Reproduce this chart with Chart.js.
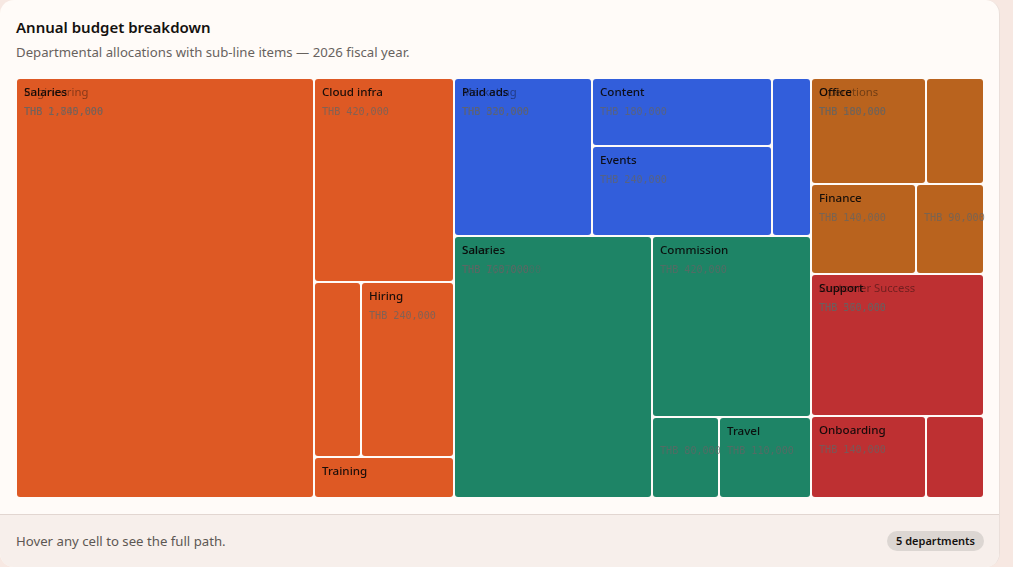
<!DOCTYPE html>
<html lang="en">
<head>
<meta charset="utf-8">
<title>Annual budget breakdown</title>
<script src="https://cdn.jsdelivr.net/npm/chart.js@4/dist/chart.umd.js"></script>
<style>
  html, body { margin: 0; height: 100%; background: #f7e8e2; overflow: hidden; }
  body { font-family: "Noto Sans", "Open Sans", sans-serif; }
  .card {
    position: absolute; left: 0; top: 0; width: 1000px; height: 567px;
    box-sizing: border-box; background: #fffbf8;
    border-right: 1px solid #eadfda; border-radius: 14px; overflow: hidden;
  }
  h1 { position: absolute; left: 16px; top: 16px; margin: 0; font-size: 15px; line-height: 22px; font-weight: 600; color: #14110f; }
  .sub { position: absolute; left: 16px; top: 43px; margin: 0; font-size: 13.2px; line-height: 18px; color: #68625e; }
  .plot { position: absolute; left: 16px; top: 78px; width: 969px; height: 420px; }
  .foot {
    position: absolute; left: 0; right: 0; top: 514px; bottom: 0;
    background: #f7efeb; border-top: 1px solid #e2d6d1;
  }
  .foot span.note { position: absolute; left: 16px; top: 16px; font-size: 13.2px; line-height: 20px; color: #5d5753; }
  .foot span.badge {
    position: absolute; right: 15px; top: 16px; height: 20px; padding: 0 9px; border-radius: 10px;
    background: #dcd6d2; font-size: 11px; line-height: 20px; font-weight: 600; color: #14110f;
  }
</style>
</head>
<body>
<div class="card">
  <h1>Annual budget breakdown</h1>
  <p class="sub">Departmental allocations with sub-line items — 2026 fiscal year.</p>
  <div class="plot"><canvas id="budget-chart"></canvas></div>
  <div class="foot">
    <span class="note">Hover any cell to see the full path.</span>
    <span class="badge">5 departments</span>
  </div>
</div>

<script>
// ── DATA ──
const departments  = ['Engineering', 'Marketing', 'Sales', 'Operations', 'Customer Success'];
const deptColors   = ['#de5924', '#325edb', '#1e8466', '#b9631e', '#be3032'];

const engineeringItems  = ['Salaries', 'Cloud infra', 'Tooling', 'Hiring', 'Training'];
const engineeringValues = [1840000, 420000, 120000, 240000, 85000];
const marketingItems    = ['Paid ads', 'Content', 'Events', 'Brand'];
const marketingValues   = [320000, 180000, 240000, 90000];
const salesItems        = ['Salaries', 'Commission', 'Enablement', 'Travel'];
const salesValues       = [760000, 420000, 80000, 110000];
const operationsItems   = ['Office', 'Facilities', 'Finance', 'Compliance'];
const operationsValues  = [180000, 90000, 140000, 90000];
const successItems      = ['Support', 'Onboarding', 'Knowledge base'];
const successValues     = [360000, 140000, 70000];

const itemNames  = [engineeringItems, marketingItems, salesItems, operationsItems, successItems];
const itemValues = [engineeringValues, marketingValues, salesValues, operationsValues, successValues];

// ── LAYOUT ──
const PLOT_W = 968;
const PLOT_H = 420;
const ROW_TOLERANCE = 1.6;   // how much worse a row's aspect may get before it's closed

const sum = (arr) => arr.reduce((a, b) => a + b, 0);
const thb = (v) => 'THB ' + v.toLocaleString('en-US');

function worstRatio(row, rest, rect) {
    const side  = Math.min(rect.w, rect.h);
    const long  = Math.max(rect.w, rect.h);
    const total = sum(row);
    const thick = long * total / rest;
    let worst = 0;
    row.forEach((v) => {
        const len = side * v / total;
        worst = Math.max(worst, thick / len, len / thick);
    });
    return worst;
}

function squarify(values, rect) {
    const out = [];
    let r = { ...rect };
    let i = 0;
    while (i < values.length) {
        const rest = sum(values.slice(i));
        const row = [values[i]];
        let worst = worstRatio(row, rest, r);
        while (i + row.length < values.length) {
            const next = worstRatio([...row, values[i + row.length]], rest, r);
            if (next > worst && next > worst * ROW_TOLERANCE) break;
            row.push(values[i + row.length]);
            worst = next;
        }
        const total = sum(row);
        if (r.w >= r.h) {
            const thick = r.w * total / rest;
            let y = r.y;
            row.forEach((v) => {
                const h = r.h * v / total;
                out.push({ x: r.x, y, w: thick, h });
                y += h;
            });
            r = { x: r.x + thick, y: r.y, w: r.w - thick, h: r.h };
        } else {
            const thick = r.h * total / rest;
            let x = r.x;
            row.forEach((v) => {
                const w = r.w * v / total;
                out.push({ x, y: r.y, w, h: thick });
                x += w;
            });
            r = { x: r.x, y: r.y + thick, w: r.w, h: r.h - thick };
        }
        i += row.length;
    }
    return out;
}

const deptTotals = itemValues.map(sum);
const deptRects  = squarify(deptTotals, { x: 0, y: 0, w: PLOT_W, h: PLOT_H });

const cells = [];
departments.forEach((dept, d) => {
    squarify(itemValues[d], deptRects[d]).forEach((rect, k) => {
        cells.push({ ...rect, dept: d, name: itemNames[d][k], value: itemValues[d][k] });
    });
});

// ── TREEMAP CONTROLLER ──
const LABEL_FONT = '500 11.6px "Noto Sans", "Open Sans", sans-serif';
const GROUP_FONT = '400 11.3px "Noto Sans", "Open Sans", sans-serif';
const VALUE_FONT = '10.1px "DejaVu Sans Mono", monospace';

class TreemapController extends Chart.DatasetController {
    static id = 'treemap';
    static defaults = { dataElementType: 'bar', datasetElementType: false };

    getMinMax(scale) {
        return { min: scale.options.min, max: scale.options.max };
    }

    getLabelAndValue(index) {
        const c = this.getDataset().data[index];
        return { label: departments[c.dept] + ' / ' + c.name, value: thb(c.value) };
    }

    update(mode) {
        const meta = this._cachedMeta;
        this.updateElements(meta.data, 0, meta.data.length, mode);
    }

    updateElements(elements, start, count) {
        const { x: xScale, y: yScale } = this.chart.scales;
        const data = this.getDataset().data;
        for (let i = start; i < start + count; i++) {
            const c = data[i];
            const left   = Math.round(xScale.getPixelForValue(c.x)) + 1;
            const right  = Math.round(xScale.getPixelForValue(c.x + c.w)) - 1;
            const top    = Math.round(yScale.getPixelForValue(c.y)) + 1;
            const bottom = Math.round(yScale.getPixelForValue(c.y + c.h)) - 1;
            this.updateElement(elements[i], i, {
                x: (left + right) / 2,
                y: top,
                base: bottom,
                width: right - left,
                height: bottom - top,
                horizontal: false,
                inflateAmount: 0,
                enableBorderRadius: true,
                borderSkipped: false,
                options: this.resolveDataElementOptions(i, 'none')
            }, 'none');
        }
    }

    draw() {
        const ctx = this.chart.ctx;
        const els = this._cachedMeta.data;
        const data = this.getDataset().data;
        ctx.save();
        ctx.textBaseline = 'middle';
        ctx.textAlign = 'left';

        // Cell fill then its own text, so the next cell paints over any overflow
        els.forEach((el, i) => {
            el.draw(ctx);
            const c = data[i];
            const tx = el.x - el.width / 2 + 7;
            const ty = el.y;
            ctx.font = LABEL_FONT;
            if (ctx.measureText(c.name).width <= el.width - 14 && el.height >= 30) {
                ctx.fillStyle = 'rgba(10,8,8,0.92)';
                ctx.fillText(c.name, tx, ty + 14);
            }
            if (el.width >= 60 && el.height >= 50) {
                ctx.font = VALUE_FONT;
                ctx.fillStyle = 'rgba(100,100,100,0.75)';
                ctx.fillText(thb(c.value), tx, ty + 33);
            }
        });

        // Department caption sits on top of the first cell in each block
        const { x: xScale, y: yScale } = this.chart.scales;
        deptRects.forEach((rect, d) => {
            const tx = Math.round(xScale.getPixelForValue(rect.x)) + 8;
            const ty = Math.round(yScale.getPixelForValue(rect.y)) + 1;
            ctx.font = GROUP_FONT;
            ctx.fillStyle = 'rgba(10,8,8,0.42)';
            ctx.fillText(departments[d], tx, ty + 14);
            ctx.font = VALUE_FONT;
            ctx.fillStyle = 'rgba(100,100,100,0.5)';
            ctx.fillText(thb(deptTotals[d]), tx, ty + 33);
        });
        ctx.restore();
    }
}
Chart.register(TreemapController);

// ── CHART ──
new Chart(document.getElementById('budget-chart'), {
    type: 'treemap',
    data: {
        labels: cells.map((c) => c.name),
        datasets: [{
            data: cells,
            parsing: false,
            normalized: true,
            backgroundColor: cells.map((c) => deptColors[c.dept]),
            hoverBackgroundColor: cells.map((c) => deptColors[c.dept]),
            borderWidth: 0,
            borderRadius: 3,
            borderSkipped: false
        }]
    },
    options: {
        responsive: true,
        maintainAspectRatio: false,
        animation: false,
        layout: { padding: { right: 1 } },
        interaction: { mode: 'point', intersect: true },
        plugins: {
            legend: { display: false },
            title: { display: false },
            tooltip: {
                callbacks: {
                    title: (items) => items[0].label,
                    label: (item) => item.formattedValue
                }
            }
        },
        scales: {
            x: { type: 'linear', min: 0, max: PLOT_W, display: false },
            y: { type: 'linear', min: 0, max: PLOT_H, reverse: true, display: false }
        }
    }
});
</script>
</body>
</html>
